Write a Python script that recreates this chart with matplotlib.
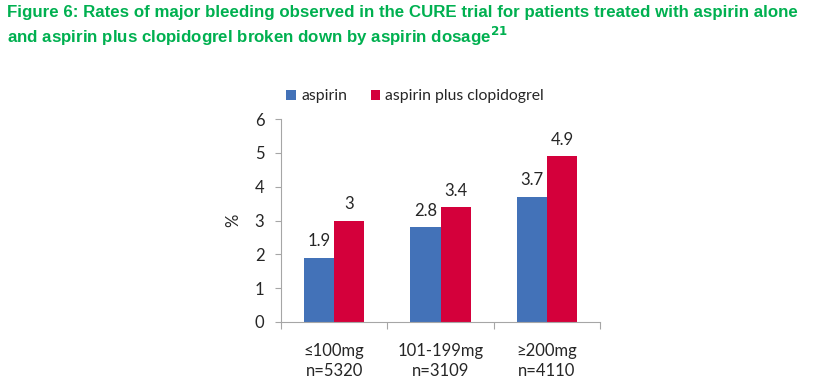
import matplotlib
matplotlib.use("Agg")
import matplotlib.pyplot as plt
import numpy as np

categories = ["\u2264100mg\nn=5320", "101-199mg\nn=3109", "\u2265200mg\nn=4110"]
aspirin = [1.9, 2.8, 3.7]
combo = [3.0, 3.4, 4.9]
aspirin_labels = ["1.9", "2.8", "3.7"]
combo_labels = ["3", "3.4", "4.9"]
series_names = ["aspirin", "aspirin plus clopidogrel"]
yticks = [0, 1, 2, 3, 4, 5, 6]

BLUE = "#4372B8"
RED = "#D4003B"
GREEN = "#00B050"
GRAY = "#A6A6A6"
TXT = "#262626"

fig = plt.figure(figsize=(8.22, 3.85), dpi=100)
ax = fig.add_axes([281/822, 1-322/385, (600-281)/822, (322-119)/385])

x = np.arange(len(categories))
w = 0.285
b1 = ax.bar(x - w/2, aspirin, w, color=BLUE, label=series_names[0])
b2 = ax.bar(x + w/2, combo, w, color=RED, label=series_names[1])

tf = dict(family=["Lato", "DejaVu Sans"], fontsize=12, color=TXT)
for xi, v, s in zip(x, aspirin, aspirin_labels):
    ax.annotate(s, (xi - w/2, v), xytext=(0, 6), textcoords="offset points", ha="center", va="bottom", **tf)
for xi, v, s in zip(x, combo, combo_labels):
    ax.annotate(s, (xi + w/2, v), xytext=(0, 6), textcoords="offset points", ha="center", va="bottom", **tf)

ax.set_xlim(-0.5, len(categories) - 0.5)
ax.set_ylim(0, 6)
ax.set_yticks(yticks)
ax.set_yticklabels([str(t) for t in yticks], **tf)
ax.set_xticks(x)
ax.set_xticklabels(categories, linespacing=1.35, **tf)
ax.tick_params(axis="x", length=0, pad=15)
ax.set_xticks(np.arange(len(categories) + 1) - 0.5, minor=True)
ax.tick_params(axis="x", which="minor", length=5, color=GRAY, width=0.8)
ax.tick_params(axis="y", length=4, color=GRAY, width=0.8, pad=8)
for s in ["top", "right"]:
    ax.spines[s].set_visible(False)
for s in ["left", "bottom"]:
    ax.spines[s].set_color(GRAY)
    ax.spines[s].set_linewidth(0.8)
ax.set_ylabel("%", labelpad=10, **tf)

leg = fig.legend(handles=[b1, b2], loc="upper left", bbox_to_anchor=(272/822, 1-75/385),
                 ncol=2, frameon=False, handlelength=0.6, handleheight=0.6,
                 handletextpad=0.35, columnspacing=1.5, prop=dict(family=["Lato", "DejaVu Sans"], size=11.3))
for t in leg.get_texts():
    t.set_color(TXT)

fig.text(7/822, 1-5/385, "Figure 6: Rates of major bleeding observed in the CURE trial for patients treated with aspirin alone\n"
         "and aspirin plus clopidogrel broken down by aspirin dosage$^{\\mathbf{21}}$",
         ha="left", va="top", color=GREEN, fontweight="bold", fontsize=12.2,
         family=["Liberation Sans", "DejaVu Sans"], linespacing=1.25)

fig.savefig("out.png", dpi=100)
